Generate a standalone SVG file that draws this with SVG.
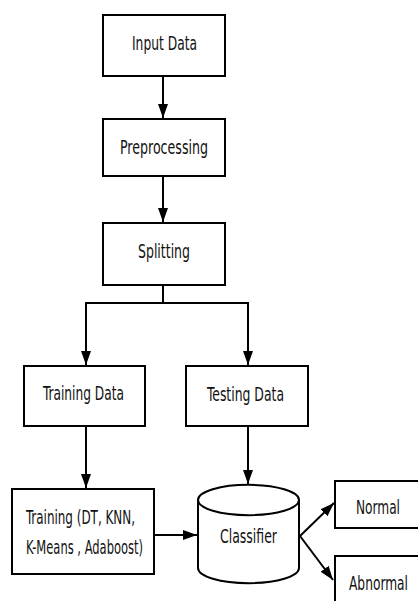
<svg xmlns="http://www.w3.org/2000/svg" width="418" height="601" viewBox="0 0 418 601">
<defs>
<marker id="ah" viewBox="0 0 14 10" refX="14" refY="5" markerWidth="7" markerHeight="5" markerUnits="strokeWidth" orient="auto">
<path d="M0,0 L14,5 L0,10 Z" fill="#000"/>
</marker>
</defs>
<style>
.box{fill:#fff;stroke:#000;stroke-width:2}
.t{font-family:"DejaVu Sans Condensed","DejaVu Sans","Liberation Sans",sans-serif;font-size:19px;fill:#111;text-anchor:start}
.c{fill:none;stroke:#000;stroke-width:2}
</style>
<rect width="418" height="601" fill="#fff"/>
<g id="connectors">
<path class="c" d="M163,76 V118" marker-end="url(#ah)"/>
<path class="c" d="M163,176 V222" marker-end="url(#ah)"/>
<path class="c" d="M163,285 V303 M86,303 H248"/>
<path class="c" d="M86,302 V365" marker-end="url(#ah)"/>
<path class="c" d="M248,302 V365" marker-end="url(#ah)"/>
<path class="c" d="M86,426 V488" marker-end="url(#ah)"/>
<path class="c" d="M248,426 V484" marker-end="url(#ah)"/>
<path class="c" d="M154,535 H197" marker-end="url(#ah)"/>
<path class="c" d="M300,536 L334,503" marker-end="url(#ah)"/>
<path class="c" d="M300,536 L333,580" marker-end="url(#ah)"/>
</g>
<g id="input">
<rect class="box" x="103" y="15" width="122" height="61"/>
<text class="t" x="132" y="50" textLength="65" lengthAdjust="spacingAndGlyphs">Input Data</text>
</g>
<g id="preprocessing">
<rect class="box" x="103" y="119" width="122" height="57"/>
<text class="t" x="120" y="154" textLength="88" lengthAdjust="spacingAndGlyphs">Preprocessing</text>
</g>
<g id="splitting">
<rect class="box" x="103" y="223" width="122" height="62"/>
<text class="t" x="138" y="258" textLength="52" lengthAdjust="spacingAndGlyphs">Splitting</text>
</g>
<g id="training-data">
<rect class="box" x="24" y="366" width="121" height="60"/>
<text class="t" x="43" y="400" textLength="81" lengthAdjust="spacingAndGlyphs">Training Data</text>
</g>
<g id="testing-data">
<rect class="box" x="186" y="366" width="122" height="60"/>
<text class="t" x="207" y="401" textLength="77" lengthAdjust="spacingAndGlyphs">Testing Data</text>
</g>
<g id="training">
<rect class="box" x="12" y="489" width="142" height="85"/>
<text class="t" x="26" y="524" textLength="109" lengthAdjust="spacingAndGlyphs">Training (DT, KNN,</text>
<text class="t" x="26" y="554" textLength="117" lengthAdjust="spacingAndGlyphs">K-Means , Adaboost)</text>
</g>
<g id="classifier">
<path class="box" d="M198,500 V568 A50,15 0 0 0 299,568 V500 A50,15 0 0 0 198,500 Z"/>
<path class="c" d="M198,500 A50,15 0 0 0 299,500"/>
<text class="t" x="220" y="543" textLength="57" lengthAdjust="spacingAndGlyphs">Classifier</text>
</g>
<g id="normal">
<rect class="box" x="335" y="481" width="95" height="47"/>
<text class="t" x="356" y="514" textLength="44" lengthAdjust="spacingAndGlyphs">Normal</text>
</g>
<g id="abnormal">
<rect class="box" x="335" y="556" width="95" height="60"/>
<text class="t" x="349" y="590" textLength="59" lengthAdjust="spacingAndGlyphs">Abnormal</text>
</g>
</svg>
